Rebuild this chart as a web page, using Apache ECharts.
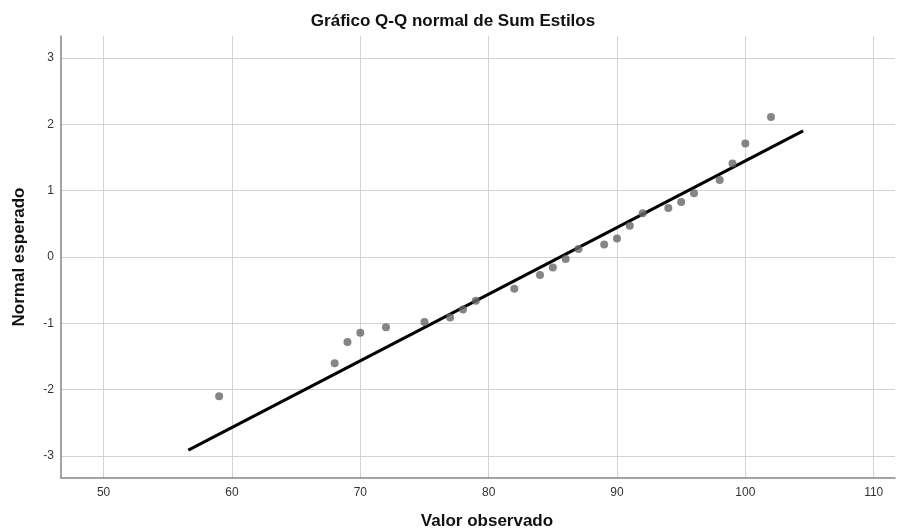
<!DOCTYPE html>
<html>
<head>
<meta charset="utf-8">
<script src="https://cdn.jsdelivr.net/npm/echarts@6/dist/echarts.min.js"></script>
<style>
  html, body { margin: 0; padding: 0; background: #fff; }
  #chart { width: 906px; height: 532px; }
</style>
</head>
<body>
<div id="chart"></div>
<script>
// Gráfico Q-Q normal: valores observados vs normal esperado
const observed = [59, 68, 69, 70, 72, 75, 77, 78, 79, 82, 84, 85, 86, 87, 89, 90, 91, 92, 94, 95, 96, 98, 99, 100, 102];
const expected = [-2.10, -1.60, -1.28, -1.14, -1.06, -0.98, -0.91, -0.79, -0.66, -0.48, -0.27, -0.16, -0.03, 0.12, 0.19, 0.28, 0.47, 0.66, 0.74, 0.83, 0.96, 1.16, 1.41, 1.71, 2.11];
const lineX = [56.6, 104.5];
const lineY = [-2.91, 1.90];
const xTicks = [50, 60, 70, 80, 90, 100, 110];
const yTicks = [-3, -2, -1, 0, 1, 2, 3];

const font = "'Liberation Sans', Arial, sans-serif";
const chart = echarts.init(document.getElementById("chart"));

chart.setOption({
  animation: false,
  backgroundColor: "#fff",
  title: {
    text: "Gráfico Q-Q normal de Sum Estilos",
    left: "center", top: 8,
    textStyle: { fontFamily: font, fontSize: 17, fontWeight: "bold", color: "#111" },
  },
  grid: { left: 61, right: 11, top: 36, bottom: 54, outerBoundsMode: "none", containLabel: false },
  xAxis: {
    type: "value", min: 46.68, max: 111.66,
    name: "Valor observado", nameLocation: "middle", nameGap: 35,
    nameTextStyle: { fontFamily: font, fontSize: 17, fontWeight: "bold", color: "#111", padding: [0, 0, 0, 18] },
    axisLine: { show: true, onZero: false, lineStyle: { color: "#858585", width: 1.5 } },
    axisTick: { show: false, customValues: xTicks },
    axisLabel: { customValues: xTicks, margin: 9, fontFamily: font, fontSize: 12, color: "#333" },
    splitLine: { show: true, lineStyle: { color: "#d2d2d2", width: 1 } },
  },
  yAxis: {
    type: "value", min: -3.33, max: 3.33,
    name: "Normal esperado", nameLocation: "middle", nameGap: 33,
    nameTextStyle: { fontFamily: font, fontSize: 17, fontWeight: "bold", color: "#111" },
    axisLine: { show: true, onZero: false, lineStyle: { color: "#858585", width: 1.5 } },
    axisTick: { show: false, customValues: yTicks },
    axisLabel: { customValues: yTicks, margin: 7, fontFamily: font, fontSize: 12, color: "#333" },
    splitLine: { show: true, lineStyle: { color: "#d2d2d2", width: 1 } },
  },
  series: [
    {
      type: "line",
      data: lineX.map((x, i) => [x, lineY[i]]),
      showSymbol: false, symbol: "none",
      lineStyle: { color: "#000", width: 3 },
      z: 2,
    },
    {
      type: "scatter",
      data: observed.map((x, i) => [x, expected[i]]),
      symbol: "circle", symbolSize: 8,
      itemStyle: { color: "#666666" },
      z: 3,
    },
  ],
});
</script>
</body>
</html>
